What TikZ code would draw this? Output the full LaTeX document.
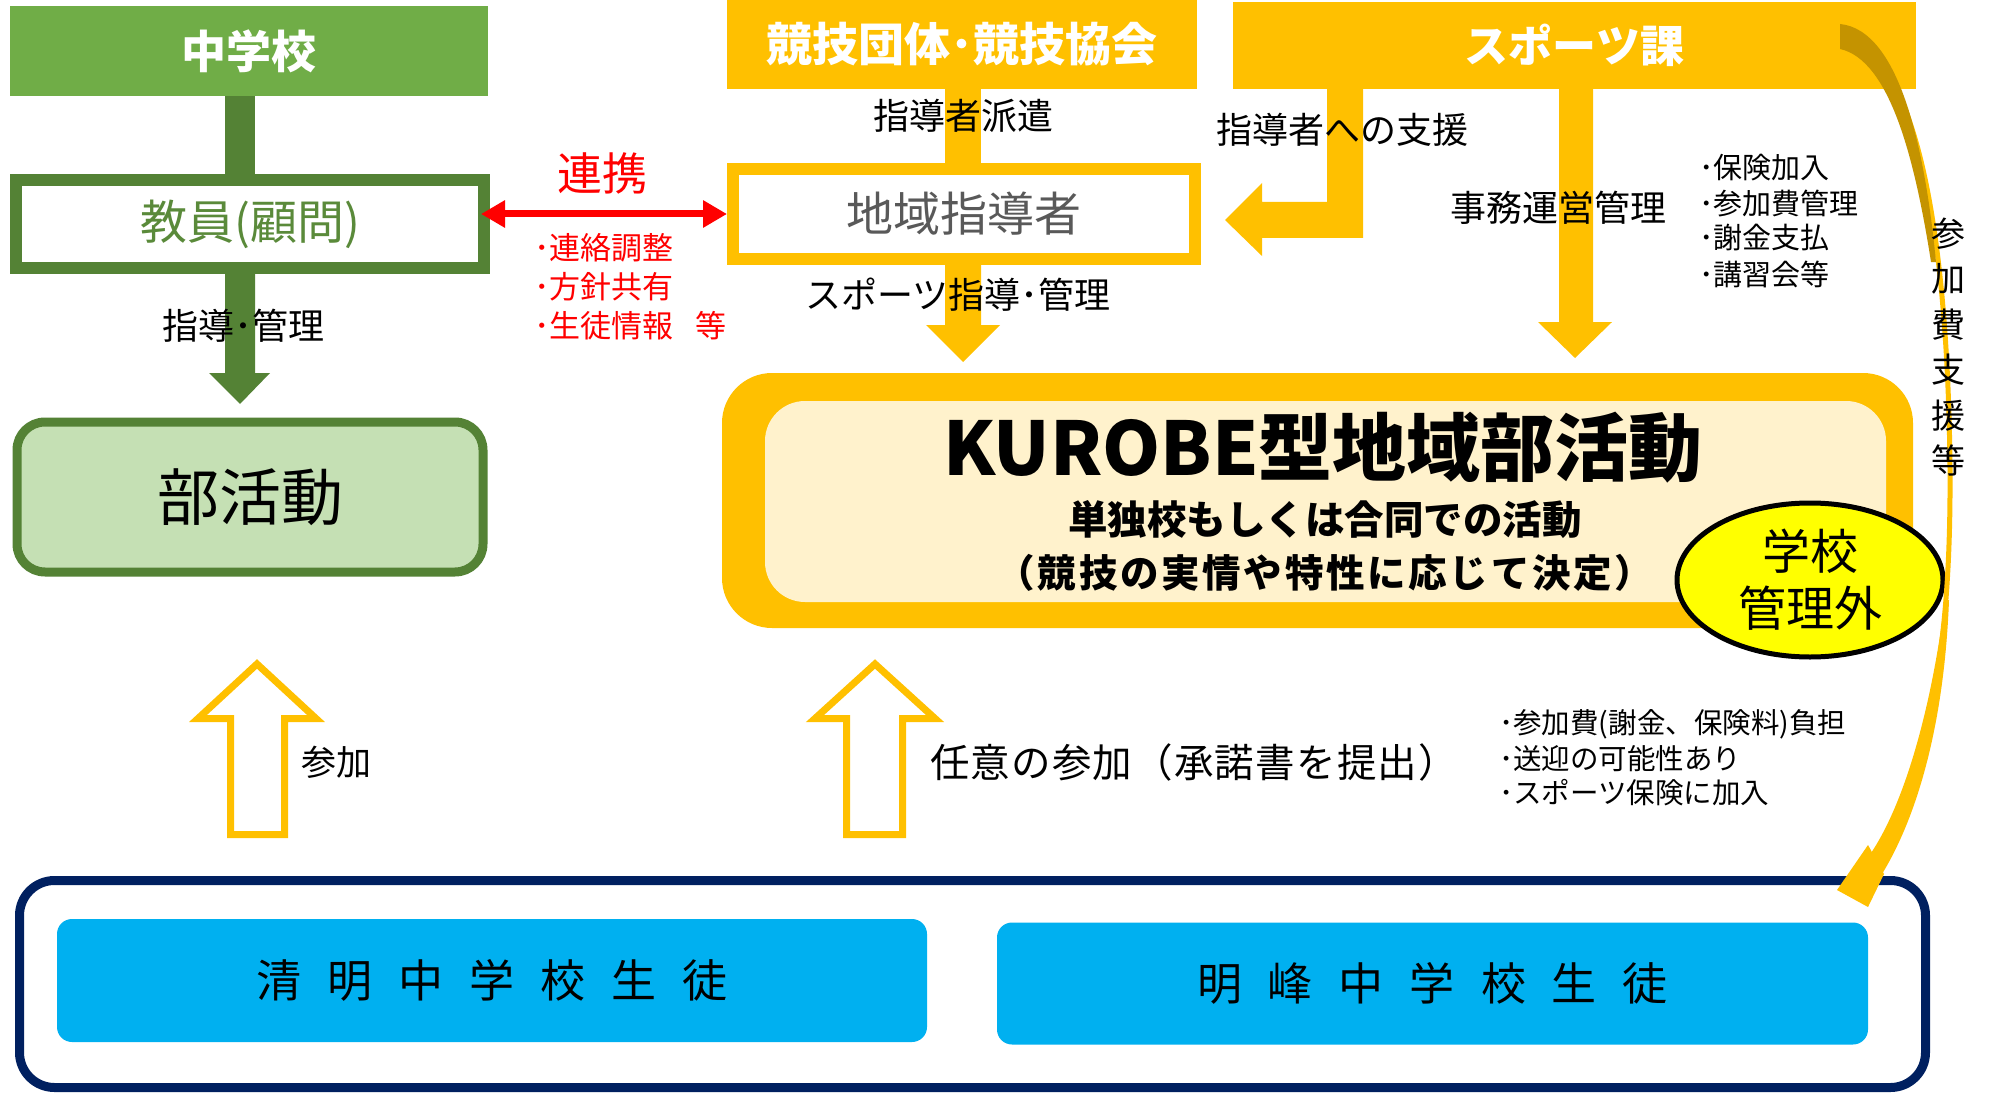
\documentclass[tikz,border=0pt]{standalone}
\usepackage{fontspec}
\setmainfont{Noto Sans CJK JP}
\usetikzlibrary{arrows.meta,shapes.geometric}
\definecolor{grn}{HTML}{70AD47}
\definecolor{dgrn}{HTML}{548235}
\definecolor{tgrn}{HTML}{5A8A3A}
\definecolor{lgrn}{HTML}{C5E0B4}
\definecolor{gold}{HTML}{FFC000}
\definecolor{dgold}{HTML}{C49300}
\definecolor{cream}{HTML}{FFF2CC}
\definecolor{navy}{HTML}{002060}
\definecolor{cyanb}{HTML}{00B0F0}
\definecolor{yel}{HTML}{FFFF00}
\definecolor{gtxt}{HTML}{595959}
\newcommand{\fsz}[2]{\fontsize{#1}{#2}\selectfont}
\newcommand{\gapB}{\hspace{26pt}}
\begin{document}
\begin{tikzpicture}[x=1pt,y=-1pt,
  lbl/.style={inner sep=0pt, font=\fsz{36}{43}},
  sbul/.style={inner sep=0pt, anchor=west, font=\fsz{29}{35}},
  rbul/.style={inner sep=0pt, anchor=west, text=red, font=\fsz{31}{39}},
  topbox/.style={fill=gold, inner sep=0pt, text=white},
  framebox/.style={draw, fill=white, line width=12pt, inner sep=0pt},
  hollow/.style={draw=gold, fill=white, line width=7pt, line join=miter},
  stud/.style={fill=cyanb, rounded corners=15pt, inner sep=0pt, font=\fsz{45}{54}}
]
\useasboundingbox (0,0) rectangle (1997,1094);
\fill[white] (0,0) rectangle (1997,1094);

% ---------- left column ----------
\node[fill=grn, inner sep=0pt, minimum width=478pt, minimum height=90pt,
      text=white, font=\bfseries\fsz{45}{54}] (school) at (249,51) {中学校};
\fill[dgrn] (225,96) rectangle (255,180);
\node[framebox, draw=dgrn, minimum width=468pt, minimum height=88pt,
      text=tgrn, font=\fsz{47}{56}] (teacher) at (250,224) {教員(顧問)};
\fill[dgrn] (225,268) -- (255,268) -- (255,373) -- (270,373) -- (240,404)
            -- (209,373) -- (225,373) -- cycle;
\node[draw=dgrn, fill=lgrn, line width=9pt, rounded corners=28pt, inner sep=0pt,
      minimum width=466pt, minimum height=150pt, font=\fsz{62}{70}] (club) at (250,497) {部活動};

% ---------- top middle / right ----------
\node[topbox, minimum width=470pt, minimum height=89pt, font=\bfseries\fsz{46}{54}] (assoc) at (962,44.5) {競技団体･競技協会};
\node[topbox, minimum width=683pt, minimum height=87pt, font=\bfseries\fsz{44}{52}] (sports) at (1574.5,45.5) {スポーツ課};
\fill[gold] (945,89) rectangle (981,170);
\node[framebox, draw=gold, minimum width=462pt, minimum height=90pt,
      text=gtxt, font=\fsz{47}{56}] (leader) at (964,214) {地域指導者};
\fill[gold] (945,259) -- (981,259) -- (981,325) -- (1000,325) -- (963,362)
            -- (926,325) -- (945,325) -- cycle;
% bent arrow from sports to leader
\fill[gold] (1327,89) -- (1363,89) -- (1363,238) -- (1262,238) -- (1262,256)
            -- (1225,220) -- (1262,183) -- (1262,202) -- (1327,202) -- cycle;
% admin arrow
\fill[gold] (1559,89) -- (1593,89) -- (1593,322) -- (1612,322) -- (1575,358)
            -- (1538,322) -- (1559,322) -- cycle;

% red link arrow
\draw[red, line width=7pt, {Triangle[length=24pt,width=26pt]}-{Triangle[length=24pt,width=26pt]}]
  ([xshift=-9pt]teacher.east |- leader.west) -- (leader.west);

% ---------- KUROBE box ----------
\node[fill=gold, rounded corners=50pt, inner sep=0pt, minimum width=1191pt, minimum height=255pt] (kurobe) at (1317.5,500.5) {};
\node[fill=cream, rounded corners=40pt, inner sep=0pt, minimum width=1121pt, minimum height=201pt] (kin) at (1325.5,501.5) {};
\node[inner sep=0pt, font=\bfseries\fsz{74}{80}] (k1) at (1323,448) {KUROBE型地域部活動};
\node[inner sep=0pt, font=\bfseries\fsz{39.5}{46}] (k2) at (1325,520) {単独校もしくは合同での活動};
\node[inner sep=0pt, font=\bfseries\fsz{38.5}{46}\addfontfeature{LetterSpace=7}] (k3) at (1325,573) {（競技の実情や特性に応じて決定）};
\node[ellipse, draw=black, fill=yel, line width=5pt, inner sep=0pt, minimum width=266pt,
      minimum height=154pt, align=center, font=\fsz{48}{57}] (ext) at (1810,580) {学校\\管理外};

% ---------- curved arrow ----------
\coordinate (cs) at (1840,36);
\coordinate (ce) at (1837,890);
\draw[gold, line width=5pt] (1840,40) .. controls (1915,45) and (1948,230) .. (1950,470)
      .. controls (1951,640) and (1932,760) .. (1875,860);
\fill[dgold] (cs) ++(0,-12) .. controls (1900,30) and (1925,150) .. (1936,262)
      -- (1931,262) .. controls (1915,160) and (1890,60) .. (1840,49) -- cycle;
\fill[gold] (1949,600) .. controls (1944,730) and (1915,820) .. (1882,874)
      -- (1866,860) .. controls (1900,815) and (1930,720) .. (1945,600) -- cycle;
\node[inner sep=0pt, align=center, font=\fsz{34}{45.5}] (l9) at (1948,347) {参\\加\\費\\支\\援\\等};

% ---------- labels ----------
\node[lbl] (l1) at (243,326) {指導･管理};
\node[lbl] (l2) at (963,116) {指導者派遣};
\node[lbl] (l3) at (1342,130) {指導者への支援};
\node[lbl] (l4) at (1558,208) {事務運営管理};
\node[lbl] (l5) at (958,295) {スポーツ指導･管理};
\node[inner sep=0pt, text=red, font=\fsz{45}{54}] (l6) at (602,173) {連携};
\node[rbul] (r1) at (534,248) {･連絡調整};
\node[rbul] (r2) at (534,287) {･方針共有};
\node[rbul] (r3) at (534,326) {･生徒情報\hspace{22pt}等};
\node[sbul] (s1) at (1699,168) {･保険加入};
\node[sbul] (s2) at (1699,203) {･参加費管理};
\node[sbul] (s3) at (1699,238) {･謝金支払};
\node[sbul] (s4) at (1699,274) {･講習会等};
\node[sbul, font=\fsz{28.5}{34}] (b1) at (1499,724) {･参加費(謝金、保険料)負担};
\node[sbul, font=\fsz{28.5}{34}] (b2) at (1499,759) {･送迎の可能性あり};
\node[sbul, font=\fsz{28.5}{34}] (b3) at (1499,793) {･スポーツ保険に加入};

% ---------- hollow arrows ----------
\draw[hollow] (257,664) -- (316,718.5) -- (284.5,718.5) -- (284.5,834.5) -- (230.5,834.5)
      -- (230.5,718.5) -- (198,718.5) -- cycle;
\draw[hollow] (875,664) -- (935,718.5) -- (902.5,718.5) -- (902.5,834.5) -- (846.5,834.5)
      -- (846.5,718.5) -- (815,718.5) -- cycle;
\node[inner sep=0pt, font=\fsz{35}{42}] (l7) at (336,762) {参加};
\node[inner sep=0pt, font=\fsz{39.5}{46}\addfontfeature{LetterSpace=3}] (l8) at (1194,762) {任意の参加（承諾書を提出）};

% ---------- bottom ----------
\node[draw=navy, line width=9pt, rounded corners=35pt, inner sep=0pt,
      minimum width=1906pt, minimum height=207pt] (students) at (972.5,984) {};
\node[stud, minimum width=870pt, minimum height=123pt] (seimei) at (492,980.5)
  {清\gapB 明\gapB 中\gapB 学\gapB 校\gapB 生\gapB 徒};
\node[stud, minimum width=871pt, minimum height=122pt] (meiho) at (1432.5,983.5)
  {明\gapB 峰\gapB 中\gapB 学\gapB 校\gapB 生\gapB 徒};
\fill[gold] (1868,845) -- (ce) -- (1868,907) -- (1884,874) -- cycle;
\end{tikzpicture}
\end{document}
